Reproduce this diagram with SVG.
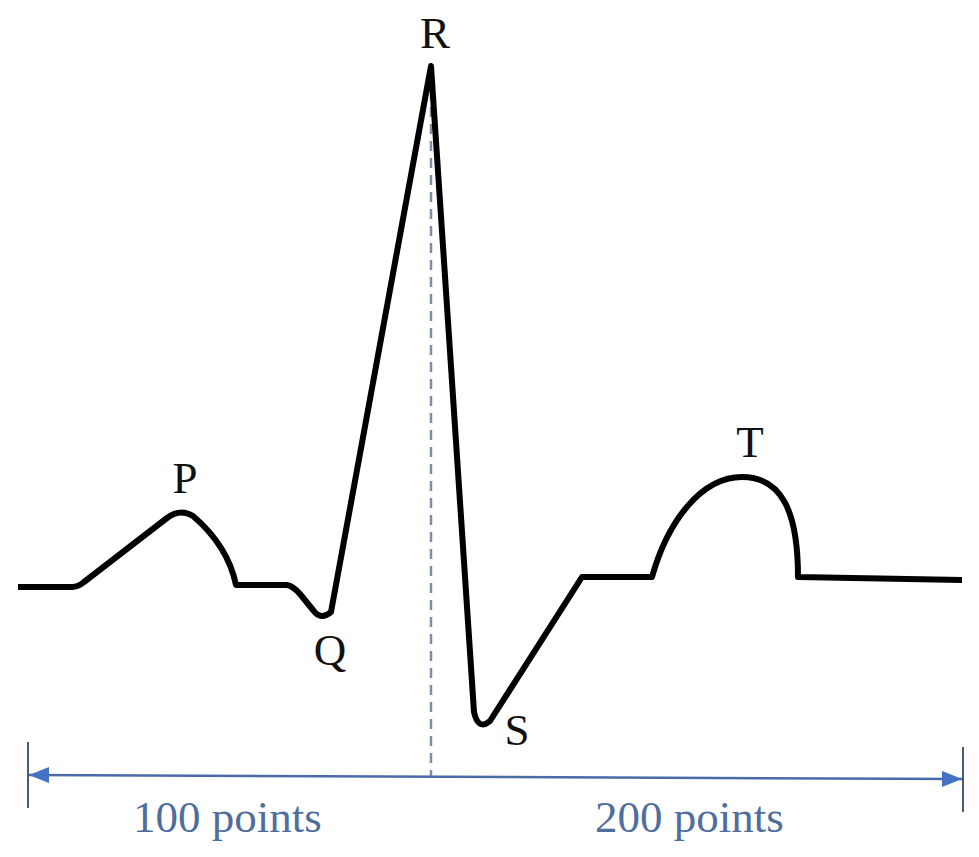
<svg xmlns="http://www.w3.org/2000/svg" width="979" height="857" viewBox="0 0 979 857">
<style>
.lbl{font-size:45px;fill:#111;text-anchor:middle}
.dim{font-size:45px;fill:#4f6e9e}
.ecg{fill:none;stroke:#000;stroke-width:6;stroke-linejoin:round;stroke-linecap:butt}
</style>
<defs>
<marker id="ah" viewBox="0 0 20 16" refX="20" refY="8" markerWidth="20" markerHeight="16" markerUnits="userSpaceOnUse" orient="auto-start-reverse">
<path d="M0,0 L20,8 L0,16 Z" fill="#4472c4"/>
</marker>
</defs>
<rect width="979" height="857" fill="#fff"/>
<g id="connectors">
<line x1="431" y1="90" x2="431" y2="776" stroke="#7f8ea8" stroke-width="2.5" stroke-dasharray="10,7"/>
<line x1="29" y1="775" x2="962" y2="779" stroke="#4a6aa8" stroke-width="2.5" marker-start="url(#ah)" marker-end="url(#ah)"/>
<line x1="28" y1="742" x2="28" y2="808" stroke="#4a5a78" stroke-width="2"/>
<line x1="963" y1="747" x2="963" y2="812" stroke="#4a5a78" stroke-width="2"/>
</g>
<g id="ecg">
<path class="ecg" d="M18,587 L72,587 Q78,587 84,582 L167,518 Q180,508 193,516 Q228,546 236,585 L287,585 Q293,586 300,594 L313,610 Q321,621 331,612 L431,66 L474,712 Q478,731 490,721 L582,577 L652,577 C668,520 702,477 742,477 C782,477 798,512 798,577 L962,580"/>
</g>
<g font-family="'Liberation Serif','Times New Roman','DejaVu Serif',serif">
<g id="P"><text class="lbl" x="185" y="493">P</text></g>
<g id="Q"><text class="lbl" x="330" y="665">Q</text></g>
<g id="R"><text class="lbl" x="435" y="48">R</text></g>
<g id="S"><text class="lbl" x="517" y="745">S</text></g>
<g id="T"><text class="lbl" x="750" y="457">T</text></g>
<g id="label100"><text class="dim" x="133" y="832">100 points</text></g>
<g id="label200"><text class="dim" x="595" y="832">200 points</text></g>
</g>
</svg>
